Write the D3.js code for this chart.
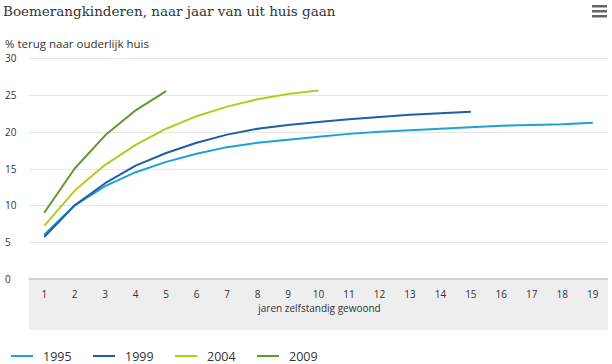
<!DOCTYPE html>
<html>
<head>
<meta charset="utf-8">
<script src="https://cdn.jsdelivr.net/npm/d3@7"></script>
<style>
  body { margin: 0; background: #fff; }
  svg { display: block; }
</style>
</head>
<body>
<svg id="chart"></svg>
<script>
// chart data
var years = ["1", "2", "3", "4", "5", "6", "7", "8", "9", "10",
             "11", "12", "13", "14", "15", "16", "17", "18", "19"];
var seriesNames = ["1995", "1999", "2004", "2009"];
var values1995 = [6.0, 10.0, 12.6, 14.5, 15.9, 17.0, 17.9, 18.5, 18.9, 19.3,
                  19.7, 20.0, 20.2, 20.4, 20.6, 20.8, 20.9, 21.0, 21.2];
var values1999 = [5.7, 10.0, 13.0, 15.4, 17.1, 18.5, 19.6, 20.4, 20.9, 21.3,
                  21.7, 22.0, 22.3, 22.5, 22.7];
var values2004 = [7.2, 12.0, 15.5, 18.2, 20.4, 22.1, 23.4, 24.4, 25.1, 25.6];
var values2009 = [9.0, 15.0, 19.5, 22.9, 25.5];
var yTicks = [0, 5, 10, 15, 20, 25, 30];

var colors = ["#1ca3d3", "#1f5ea8", "#b7cb1c", "#5b9d2d"];
var allValues = [values1995, values1999, values2004, values2009];

var width = 612;
var height = 364;
var plotLeft = 29, plotRight = 608, plotTop = 58, plotBottom = 279;

var svg = d3.select("#chart").attr("width", width).attr("height", height);

var x = d3.scaleBand().domain(years).range([plotLeft, plotRight]);
var y = d3.scaleLinear().domain([0, 30]).range([plotBottom, plotTop]);

// title
svg.append("text")
  .attr("x", 3).attr("y", 16)
  .attr("font-family", "DejaVu Serif, serif")
  .attr("font-size", 13.5)
  .attr("fill", "#333")
  .text("Boemerangkinderen, naar jaar van uit huis gaan");

// menu icon
[0, 1, 2].forEach(function (i) {
  svg.append("rect")
    .attr("x", 592).attr("y", 5 + i * 5)
    .attr("width", 15).attr("height", 2.5)
    .attr("fill", "#666");
});

// y axis title
svg.append("text")
  .attr("x", 5).attr("y", 48)
  .attr("font-family", "Open Sans, sans-serif")
  .attr("font-size", 11.5)
  .attr("fill", "#333")
  .text("% terug naar ouderlijk huis");

// x axis band
svg.append("rect")
  .attr("x", plotLeft).attr("y", plotBottom)
  .attr("width", plotRight - plotLeft).attr("height", 51)
  .attr("fill", "#eeeeee");

// gridlines
svg.append("g")
  .selectAll("line")
  .data(yTicks.filter(function (d) { return d > 0; }))
  .enter()
  .append("line")
  .attr("x1", plotLeft).attr("x2", plotRight)
  .attr("y1", function (d) { return Math.round(y(d)) + 0.5; })
  .attr("y2", function (d) { return Math.round(y(d)) + 0.5; })
  .attr("stroke", "#e6e6e6");

svg.append("line")
  .attr("x1", plotLeft).attr("x2", plotRight)
  .attr("y1", plotBottom).attr("y2", plotBottom)
  .attr("stroke", "#d0d0d0").attr("stroke-width", 2);

// y labels
svg.append("g")
  .selectAll("text")
  .data(yTicks)
  .enter()
  .append("text")
  .attr("x", 5)
  .attr("y", function (d) { return y(d) + 4; })
  .attr("font-family", "Open Sans, sans-serif")
  .attr("font-size", 10)
  .attr("fill", "#333")
  .text(function (d) { return d; });

// x labels
svg.append("g")
  .selectAll("text")
  .data(years)
  .enter()
  .append("text")
  .attr("x", function (d) { return x(d) + x.bandwidth() / 2; })
  .attr("y", 298)
  .attr("text-anchor", "middle")
  .attr("font-family", "Open Sans, sans-serif")
  .attr("font-size", 10)
  .attr("fill", "#333")
  .text(function (d) { return d; });

svg.append("text")
  .attr("x", (plotLeft + plotRight) / 2 + 1).attr("y", 312)
  .attr("text-anchor", "middle")
  .attr("font-family", "Open Sans, sans-serif")
  .attr("font-size", 10)
  .attr("fill", "#333")
  .text("jaren zelfstandig gewoond");

// lines
var line = d3.line()
  .x(function (d, i) { return x(years[i]) + x.bandwidth() / 2; })
  .y(function (d) { return y(d); });

svg.append("g")
  .selectAll("path")
  .data(allValues)
  .enter()
  .append("path")
  .attr("d", line)
  .attr("fill", "none")
  .attr("stroke", function (d, i) { return colors[i]; })
  .attr("stroke-width", 2)
  .attr("stroke-linejoin", "round");

// legend
var legend = svg.append("g")
  .selectAll("g")
  .data(seriesNames)
  .enter()
  .append("g")
  .attr("transform", function (d, i) { return "translate(" + (11 + i * 82) + ",356)"; });

legend.append("line")
  .attr("x1", 0).attr("x2", 22)
  .attr("y1", 0).attr("y2", 0)
  .attr("stroke", function (d, i) { return colors[i]; })
  .attr("stroke-width", 2);

legend.append("text")
  .attr("x", 32).attr("y", 5)
  .attr("font-family", "Open Sans, sans-serif")
  .attr("font-size", 12.5)
  .attr("fill", "#333")
  .text(function (d) { return d; });
</script>
</body>
</html>
